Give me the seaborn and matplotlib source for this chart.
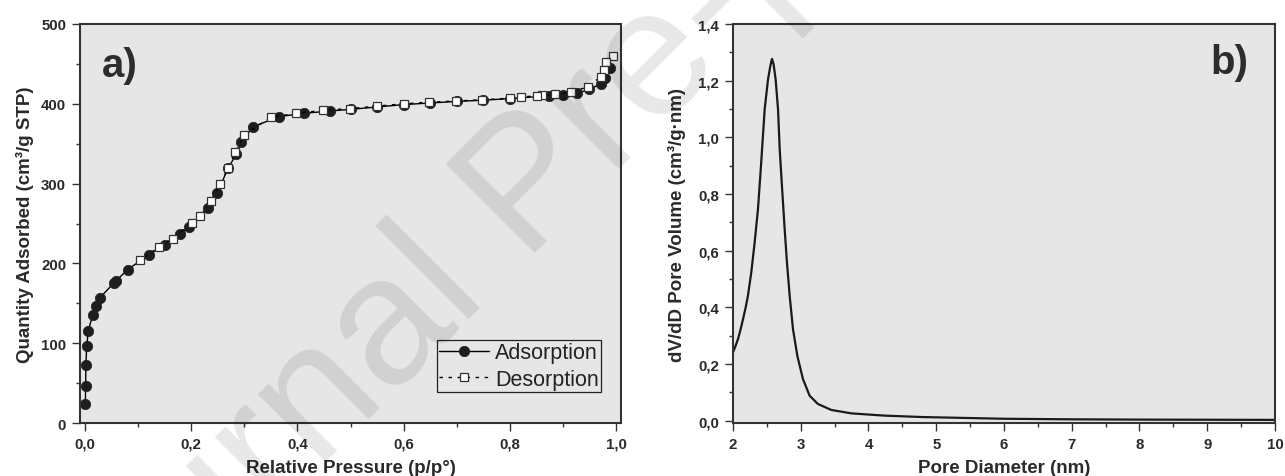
import pandas as pd
import seaborn as sns
import matplotlib.pyplot as plt
from matplotlib.ticker import MultipleLocator

# a) N2 isotherm
ads_p = [0.0005, 0.001, 0.0015, 0.003, 0.006, 0.014, 0.02, 0.028, 0.055, 0.058,
         0.08, 0.12, 0.15, 0.179, 0.196, 0.231, 0.249, 0.269, 0.285, 0.294,
         0.316, 0.365, 0.412, 0.461, 0.50, 0.55, 0.60, 0.65, 0.70, 0.75,
         0.80, 0.873, 0.90, 0.926, 0.95, 0.971, 0.98, 0.989]
ads_q = [24, 46, 73, 96, 115, 135, 147, 157, 176, 178,
         192, 211, 223, 237, 245, 269, 288, 319, 337, 352,
         371, 384, 388, 391, 393, 396, 399, 401, 403, 404.5,
         406.5, 410, 411, 413, 418, 425, 432, 445]
des_p = [0.994, 0.982, 0.977, 0.971, 0.947, 0.915, 0.886, 0.861, 0.851, 0.821,
         0.80, 0.748, 0.698, 0.648, 0.60, 0.549, 0.499, 0.449, 0.397, 0.35,
         0.299, 0.283, 0.269, 0.254, 0.237, 0.217, 0.202, 0.165, 0.14, 0.104]
des_q = [460, 452, 442, 434, 421, 415, 412, 410.5, 410, 408.5,
         407, 405, 403.5, 402, 400, 397, 394, 392, 388, 383,
         361, 340, 319, 299, 278, 259, 251, 231, 221, 204]

# b) pore size distribution
pore_d = [2.0, 2.035, 2.074, 2.11, 2.148, 2.185, 2.221, 2.27, 2.32, 2.369,
          2.415, 2.468, 2.517, 2.55, 2.576, 2.60, 2.63, 2.665, 2.69, 2.72,
          2.763, 2.797, 2.837, 2.886, 2.95, 3.033, 3.132, 3.255, 3.452, 3.748,
          4.24, 4.8, 5.5, 6.0, 7.0, 8.0, 9.0, 10.0]
pore_v = [0.241, 0.262, 0.288, 0.32, 0.358, 0.397, 0.441, 0.523, 0.629, 0.746,
          0.905, 1.099, 1.204, 1.25, 1.277, 1.258, 1.204, 1.099, 0.957, 0.84,
          0.676, 0.558, 0.441, 0.323, 0.229, 0.147, 0.088, 0.059, 0.038, 0.026,
          0.018, 0.013, 0.0095, 0.007, 0.005, 0.004, 0.0035, 0.003]

a_xticks = [0.0, 0.2, 0.4, 0.6, 0.8, 1.0]
a_xlabels = ["0,0", "0,2", "0,4", "0,6", "0,8", "1,0"]
a_yticks = [0, 100, 200, 300, 400, 500]
b_xticks = [2, 3, 4, 5, 6, 7, 8, 9, 10]
b_yticks = [0.0, 0.2, 0.4, 0.6, 0.8, 1.0, 1.2, 1.4]
b_ylabels = ["0,0", "0,2", "0,4", "0,6", "0,8", "1,0", "1,2", "1,4"]

sns.set_style("ticks", {"axes.facecolor": "#e6e6e6", "axes.edgecolor": "#333333"})
plt.rcParams["font.family"] = ["Liberation Sans", "DejaVu Sans"]

fig = plt.figure(figsize=(12.85, 4.77), dpi=100)
ax1 = fig.add_axes([0.0623, 0.1111, 0.421, 0.8365])
ax2 = fig.add_axes([0.5704, 0.1111, 0.4218, 0.8365])

iso_ads = pd.DataFrame({"p": ads_p, "q": ads_q})
iso_des = pd.DataFrame({"p": des_p, "q": des_q})
psd = pd.DataFrame({"d": pore_d, "v": pore_v})

sns.lineplot(data=iso_ads, x="p", y="q", ax=ax1, sort=False, estimator=None,
             color="black", lw=1.0, marker="o", markersize=7.5,
             markerfacecolor="#1e1e1e", markeredgecolor="#1e1e1e",
             markeredgewidth=0.5, label="Adsorption")
sns.lineplot(data=iso_des, x="p", y="q", ax=ax1, sort=False, estimator=None,
             color="black", lw=1.0, linestyle=(0, (2.5, 4)), marker="s",
             markersize=6.3, markerfacecolor="white", markeredgecolor="#333333",
             markeredgewidth=0.9, label="Desorption")

sns.lineplot(data=psd, x="d", y="v", ax=ax2, sort=False, estimator=None,
             color="#1a1a1a", lw=1.6)

tick_font = {"fontsize": 10.8, "fontweight": "bold", "color": "#2a2a2a"}
label_font = {"fontsize": 13.5, "fontweight": "bold", "color": "#2a2a2a"}

ax1.set_xlim(-0.0095, 1.0095)
ax1.set_ylim(0, 500)
ax1.set_xticks(a_xticks)
ax1.set_xticklabels(a_xlabels, **tick_font)
ax1.set_yticks(a_yticks)
ax1.set_yticklabels([str(v) for v in a_yticks], **tick_font)
ax1.xaxis.set_minor_locator(MultipleLocator(0.1))
ax1.yaxis.set_minor_locator(MultipleLocator(50))
ax1.set_xlabel("Relative Pressure (p/p°)", labelpad=6, **label_font)
ax1.set_ylabel("Quantity Adsorbed (cm³/g STP)", labelpad=5, **label_font)

ax2.set_xlim(2, 10)
ax2.set_ylim(-0.008, 1.4)
ax2.set_xticks(b_xticks)
ax2.set_xticklabels([str(v) for v in b_xticks], **tick_font)
ax2.set_yticks(b_yticks)
ax2.set_yticklabels(b_ylabels, **tick_font)
ax2.xaxis.set_minor_locator(MultipleLocator(0.5))
ax2.yaxis.set_minor_locator(MultipleLocator(0.1))
ax2.set_xlabel("Pore Diameter (nm)", labelpad=6, **label_font)
ax2.set_ylabel("dV/dD Pore Volume (cm³/g·nm)", labelpad=9, **label_font)

for ax in (ax1, ax2):
    for s in ax.spines.values():
        s.set_linewidth(1.5)
        s.set_color("#333333")
    ax.tick_params(which="major", direction="out", length=5.5, width=1.0,
                   color="#333333", pad=4.5)
    ax.tick_params(which="minor", direction="out", length=3, width=1.0,
                   color="#333333")

ax1.text(0.0407, 0.87, "a)", transform=ax1.transAxes, fontsize=29,
         fontweight="bold", color="#2d2d2d", ha="left", va="baseline")
ax2.text(0.880, 0.877, "b)", transform=ax2.transAxes, fontsize=29,
         fontweight="bold", color="#2d2d2d", ha="left", va="baseline")

leg = ax1.legend(loc="lower right", bbox_to_anchor=(0.963, 0.078),
                 borderaxespad=0, fontsize=15.5, frameon=True, fancybox=False,
                 framealpha=1, edgecolor="#222222", handlelength=2.3,
                 handletextpad=0.3, labelspacing=0.25, borderpad=0.1)
leg.get_frame().set_linewidth(0.9)
for t in leg.get_texts():
    t.set_color("#222222")

# watermark
fig.text(0.0521, -0.5115, "Journal Pre-proof", rotation=45, rotation_mode="anchor",
         ha="left", va="baseline", fontsize=131, color="black", alpha=0.095,
         family="Liberation Sans")

fig.savefig("out.png", dpi=100)
